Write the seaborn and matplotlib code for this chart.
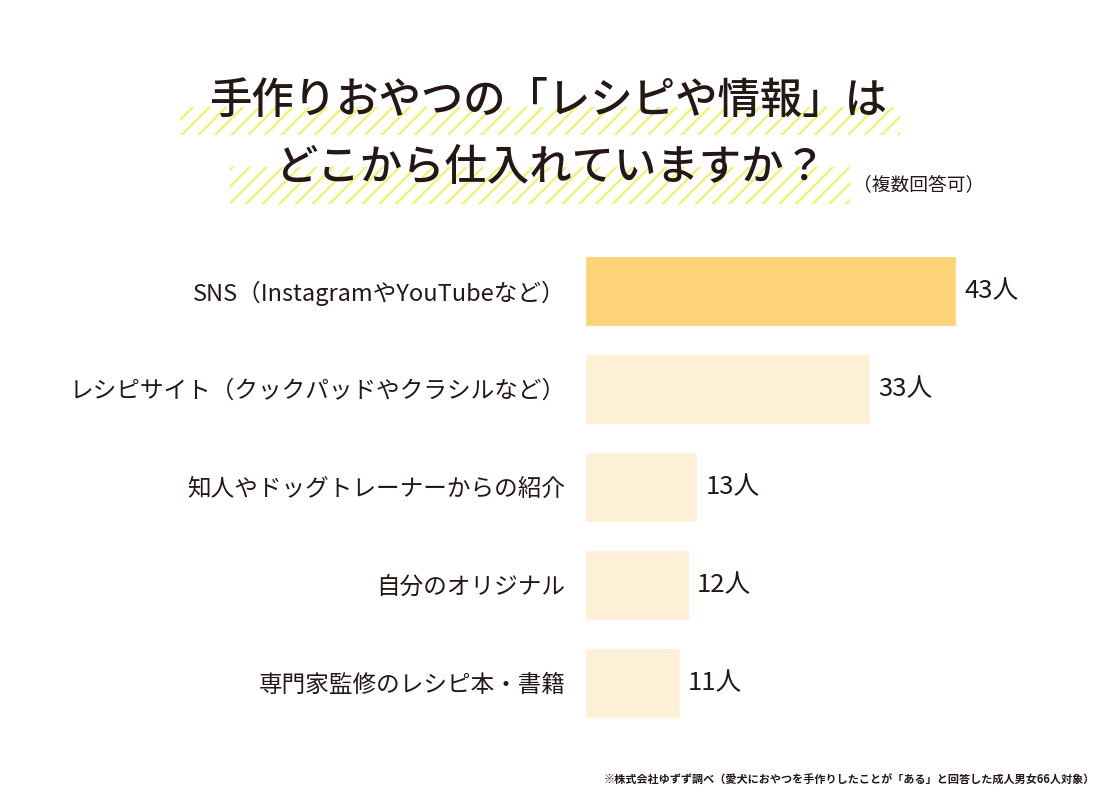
import matplotlib
matplotlib.use('Agg')
import matplotlib.pyplot as plt
from matplotlib.patches import Rectangle
import seaborn as sns
import pandas as pd

# data
categories = ['SNS（InstagramやYouTubeなど）',
              'レシピサイト（クックパッドやクラシルなど）',
              '知人やドッグトレーナーからの紹介',
              '自分のオリジナル',
              '専門家監修のレシピ本・書籍']
counts = [43, 33, 13, 12, 11]
bar_colors = ['#FCD377', '#FEF0D6', '#FEF0D6', '#FEF0D6', '#FEF0D6']

title_line1 = '手作りおやつの「レシピや情報」は'
title_line2 = 'どこから仕入れていますか？'
title_note = '（複数回答可）'
footnote = '※株式会社ゆずず調べ（愛犬におやつを手作りしたことが「ある」と回答した成人男女66人対象）'

sns.set_style('white')
plt.rcParams['font.family'] = ['Noto Sans CJK JP', 'DejaVu Sans']
plt.rcParams['hatch.linewidth'] = 1.7

W, H = 1100, 794


def fx(px):
    return px / W


def fy(py):
    return 1 - py / H


fig = plt.figure(figsize=(11, 7.94), dpi=100)
fig.patch.set_facecolor('white')

# striped highlight bands behind the title
for x0, y0, x1, y1 in [(180, 107, 900, 135), (230, 167, 850, 204)]:
    fig.patches.append(Rectangle((fx(x0), fy(y1)), fx(x1 - x0), (y1 - y0) / H,
                                 transform=fig.transFigure, fill=False,
                                 hatch='//', edgecolor='#ECF27C', linewidth=0,
                                 zorder=0))

fig.text(fx(548), fy(100), title_line1, ha='center', va='center',
         fontsize=30.5, fontweight='medium', color='#231815')
fig.text(fx(550), fy(168), title_line2, ha='center', va='center',
         fontsize=30.5, fontweight='medium', color='#231815')
fig.text(fx(853), fy(185), title_note, ha='left', va='center',
         fontsize=13.5, color='#231815')

# bar chart
scale = 371 / 43  # px per person
ax = fig.add_axes([fx(585), fy(732), fx(475), 490 / H])
df = pd.DataFrame({'category': categories, 'count': counts})
sns.barplot(data=df, x='count', y='category', hue='category',
            palette=bar_colors, width=0.714, legend=False, ax=ax,
            saturation=1)
ax.set_xlim(0, 475 / scale)
ax.set_ylim(4.5, -0.5)
for c in ax.containers:
    ax.bar_label(c, fmt='{:.0f}人', padding=6, fontsize=18.5, color='#231815')

ax.set_xlabel('')
ax.set_ylabel('')
ax.set_xticks([])
ax.tick_params(axis='y', length=0, pad=14, labelsize=17, labelcolor='#231815')
sns.despine(ax=ax, left=True, bottom=True)

fig.text(fx(1095), fy(780), footnote, ha='right', va='center',
         fontsize=8, fontweight='bold', color='#231815')

fig.savefig('out.png', dpi=100, facecolor='white')
